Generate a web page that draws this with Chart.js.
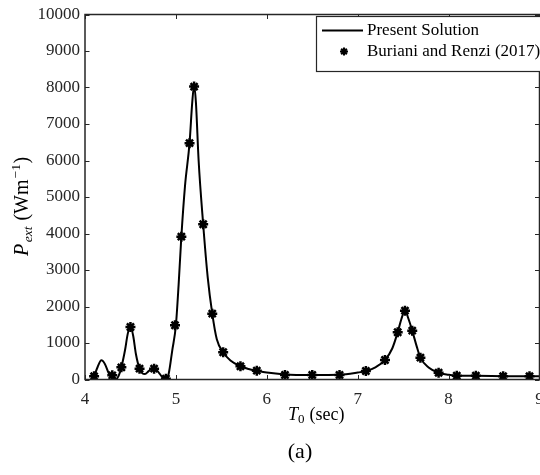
<!DOCTYPE html>
<html>
<head>
<meta charset="utf-8">
<script src="https://cdn.jsdelivr.net/npm/chart.js@4.4.1/dist/chart.umd.min.js"></script>
<style>
  html, body { margin: 0; padding: 0; background: #fff; overflow: hidden; }
  canvas { display: block; }
</style>
</head>
<body>
<canvas id="chart" width="540" height="475"></canvas>
<script>
// Present solution (continuous curve)
const solT = [4.10, 4.14, 4.18, 4.22, 4.26, 4.30, 4.34, 4.37, 4.40, 4.44, 4.47, 4.50, 4.53, 4.56, 4.60,
              4.63, 4.66, 4.70, 4.74, 4.78, 4.82, 4.86, 4.89, 4.92, 4.96, 5.00, 5.03, 5.06, 5.10, 5.15,
              5.18, 5.20, 5.22, 5.25, 5.30, 5.35, 5.40, 5.45, 5.52, 5.60, 5.71, 5.80, 5.89, 6.00, 6.20,
              6.50, 6.80, 7.00, 7.09, 7.20, 7.30, 7.38, 7.44, 7.48, 7.52, 7.56, 7.60, 7.65, 7.69, 7.78,
              7.89, 8.00, 8.09, 8.30, 8.60, 8.90, 9.00];
const solP = [80, 350, 525, 420, 180, 60, 10, 100, 334, 800, 1250, 1450, 1200, 700, 296,
              170, 150, 230, 300, 280, 160, 40, 20, 150, 800, 1486, 2600, 3914, 5300, 6475,
              7600, 8050, 7600, 6000, 4254, 2800, 1804, 1100, 746, 520, 362, 290, 241, 190, 140,
              125, 130, 190, 233, 340, 534, 850, 1294, 1650, 1890, 1650, 1338, 900, 598, 330,
              186, 130, 104, 100, 92, 88, 88];

// Buriani and Renzi (2017) reference points
const refT = [4.10, 4.30, 4.40, 4.50, 4.60, 4.76, 4.89, 4.99, 5.06, 5.15, 5.20, 5.30, 5.40, 5.52, 5.71,
              5.89, 6.20, 6.50, 6.80, 7.09, 7.30, 7.44, 7.52, 7.60, 7.69, 7.89, 8.09, 8.30, 8.60, 8.89];
const refP = [88, 115, 334, 1439, 296, 296, 22, 1486, 3914, 6475, 8026, 4254, 1804, 746, 362,
              241, 123, 123, 123, 233, 534, 1294, 1886, 1338, 598, 186, 104, 104, 88, 88];

const xTicks = [4, 5, 6, 7, 8, 9];
const yTicks = [0, 1000, 2000, 3000, 4000, 5000, 6000, 7000, 8000, 9000, 10000];
const legendLabels = ['Present Solution', 'Buriani and Renzi (2017)'];

const ink = '#262626';
const serif = '"Liberation Serif", "Times New Roman", serif';

// draws a run of [text, font, dy, gapAfter] pieces along the baseline
function drawRun(ctx, parts, x, y) {
  parts.forEach(([txt, font, dy, gap]) => {
    ctx.font = font;
    ctx.fillText(txt, x, y + dy);
    x += ctx.measureText(txt).width + gap;
  });
}

// box, inward ticks, legend and axis titles
const framePlugin = {
  id: 'frame',
  afterDraw(chart) {
    const ctx = chart.ctx;
    const a = chart.chartArea;
    const xs = chart.scales.x, ys = chart.scales.y;
    ctx.save();
    ctx.strokeStyle = ink;
    ctx.lineWidth = 1.5;
    ctx.strokeRect(a.left, a.top, a.right - a.left, a.bottom - a.top);
    ctx.lineWidth = 1;
    const tl = 4.5;
    ctx.beginPath();
    xTicks.forEach(v => {
      const px = Math.round(xs.getPixelForValue(v)) + 0.5;
      ctx.moveTo(px, a.bottom); ctx.lineTo(px, a.bottom - tl);
      ctx.moveTo(px, a.top); ctx.lineTo(px, a.top + tl);
    });
    yTicks.forEach(v => {
      const py = Math.round(ys.getPixelForValue(v)) + 0.5;
      ctx.moveTo(a.left, py); ctx.lineTo(a.left + tl, py);
      ctx.moveTo(a.right, py); ctx.lineTo(a.right - tl, py);
    });
    ctx.stroke();

    // legend (runs off the right edge)
    const lx = 316.5, ly = 16.5, lw = a.right + 4 - lx, lh = 55;
    ctx.fillStyle = '#fff';
    ctx.fillRect(lx, ly, lw, lh);
    ctx.strokeStyle = ink;
    ctx.lineWidth = 1.2;
    ctx.strokeRect(lx, ly, lw, lh);
    ctx.strokeStyle = '#000';
    ctx.lineWidth = 2;
    ctx.beginPath();
    ctx.moveTo(322, 30.5); ctx.lineTo(363, 30.5);
    ctx.stroke();
    const ds = chart.data.datasets[1];
    Chart.helpers.drawPoint(ctx, {
      pointStyle: ds.pointStyle, radius: ds.pointRadius - 1, borderWidth: ds.borderWidth
    }, 344, 51.5);
    ctx.fillStyle = '#000';
    ctx.font = '17px ' + serif;
    ctx.textBaseline = 'middle';
    ctx.textAlign = 'left';
    ctx.fillText(legendLabels[0], 367, 30.5);
    ctx.fillText(legendLabels[1], 367, 52);

    // x title: T_0 (sec)
    ctx.fillStyle = '#000';
    ctx.textBaseline = 'alphabetic';
    drawRun(ctx, [
      ['T', 'italic 18px ' + serif, 0, 0],
      ['0', '13px ' + serif, 3, 5],
      ['(sec)', '18px ' + serif, 0, 0]
    ], 288, 420);

    // y title: P_ext (Wm^-1), rotated
    ctx.save();
    ctx.translate(28, 256);
    ctx.rotate(-Math.PI / 2);
    drawRun(ctx, [
      ['P', 'italic 20px ' + serif, 0, 1.5],
      ['ext', 'italic 13.5px ' + serif, 4, 6],
      ['(Wm', '20px ' + serif, 0, 1],
      ['\u22121', '13.5px ' + serif, -8, 0.5],
      [')', '20px ' + serif, 0, 0]
    ], 0, 0);
    ctx.restore();

    // panel label
    ctx.font = '22px ' + serif;
    ctx.textAlign = 'center';
    ctx.fillText('(a)', 300, 458);
    ctx.restore();
  }
};

const ctx = document.getElementById('chart').getContext('2d');
const chart = new Chart(ctx, {
  type: 'scatter',
  data: {
    datasets: [{
      label: legendLabels[0],
      data: solT.map((t, i) => ({ x: t, y: solP[i] })),
      showLine: true,
      borderColor: '#000',
      borderWidth: 2,
      pointRadius: 0,
      cubicInterpolationMode: 'monotone',
      order: 2
    }, {
      label: legendLabels[1],
      data: refT.map((t, i) => ({ x: t, y: refP[i] })),
      showLine: false,
      pointStyle: 'star',
      pointRadius: 5,
      borderWidth: 2.5,
      borderColor: '#000',
      backgroundColor: '#000',
      order: 1
    }]
  },
  options: {
    responsive: false,
    animation: false,
    layout: { autoPadding: false, padding: { left: 0, right: 0.5, top: 14.5, bottom: 0 } },
    plugins: {
      legend: { display: false },
      tooltip: { enabled: false }
    },
    scales: {
      x: {
        type: 'linear',
        min: 4, max: 9,
        afterFit: s => { s.height = 95.5; s.paddingLeft = 0; s.paddingRight = 0; },
        afterBuildTicks: s => { s.ticks = xTicks.map(v => ({ value: v })); },
        grid: { display: false, drawTicks: false },
        border: { display: false },
        ticks: { color: ink, font: { family: serif, size: 17 }, padding: 10, maxRotation: 0,
                 callback: v => String(v) }
      },
      y: {
        type: 'linear',
        min: 0, max: 10000,
        afterFit: s => { s.width = 85; s.paddingTop = 0; s.paddingBottom = 0; },
        afterBuildTicks: s => { s.ticks = yTicks.map(v => ({ value: v })); },
        grid: { display: false, drawTicks: false },
        border: { display: false },
        ticks: { color: ink, font: { family: serif, size: 17 }, padding: 5,
                 callback: v => String(v) }
      }
    }
  },
  plugins: [framePlugin]
});
</script>
</body>
</html>
